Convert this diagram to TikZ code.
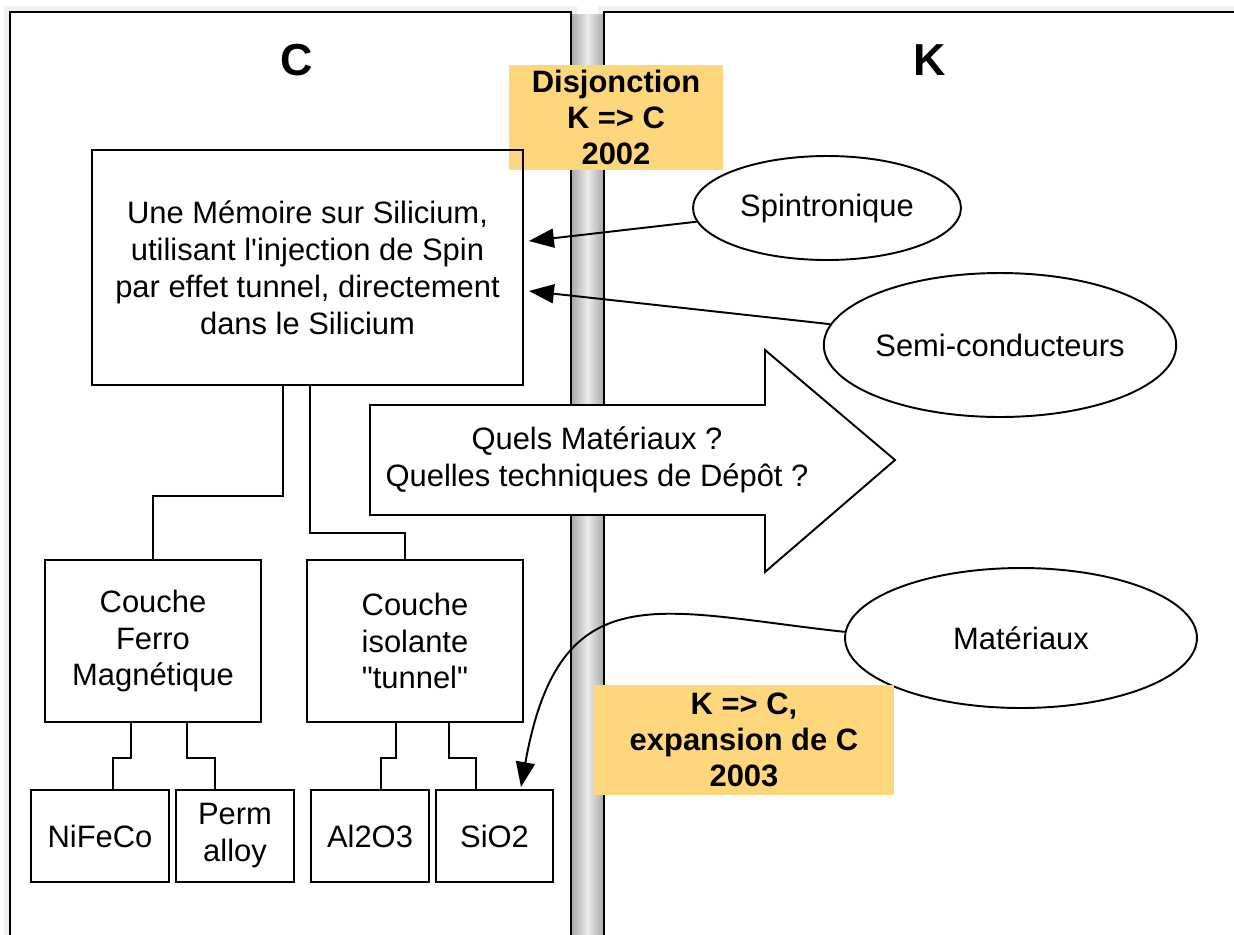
\documentclass[tikz,border=0pt]{standalone}
\usepackage{fontspec}
\setmainfont{Liberation Sans}[Ligatures={TeXOff}]
\usetikzlibrary{arrows.meta,shapes.geometric,calc}
\definecolor{notecol}{RGB}{254,214,124}
\begin{document}
\begin{tikzpicture}[x=0.02cm,y=-0.02cm,
  font=\fontsize{17.6}{21}\selectfont,
  panel/.style={draw=black,line width=1.6pt,fill=white},
  box/.style={draw=black,line width=1.1pt,align=center,inner sep=0pt},
  notebox/.style={fill=notecol,align=center,inner sep=0pt,font=\fontsize{17.6}{20.5}\selectfont\bfseries},
  oval/.style={ellipse,draw=black,line width=1.1pt,fill=white,inner sep=0pt,align=center},
  link/.style={draw=black,line width=1.1pt},
  arr/.style={link,-{Triangle[length=0.5cm,width=0.38cm]}},
  title/.style={font=\fontsize{25.5}{30}\selectfont\bfseries}
]
\useasboundingbox (0,0) rectangle (1234,934);
\fill[white] (0,0) rectangle (1234,934);
\begin{scope}
  \clip (0,0) rectangle (1234,934);
  \fill[gray!12] (4,6) rectangle (577,940);
  \fill[gray!12] (598,6) rectangle (1240,940);
  \shade[left color=gray!75, right color=gray!75, middle color=gray!15] (569,14) rectangle (606,940);
  \draw[panel] (10,12) rectangle (571,950);
  \draw[panel] (604,12) rectangle (1250,950);
\end{scope}

\node[title] (tc) at (297,60) {C};
\node[title] (tk) at (930,60) {K};

\node[notebox, minimum width=4.28cm, minimum height=2.1cm] (n1) at (616,117.5) {Disjonction\\K => C\\2002};

\node[box, minimum width=8.62cm, minimum height=4.7cm] (mem) at (307.5,267.5)
  {Une Mémoire sur Silicium,\\utilisant l'injection de Spin\\par effet tunnel, directement\\dans le Silicium};

\node[oval, minimum width=5.36cm, minimum height=2.08cm] (spin) at (827,208) {Spintronique};
\node[oval, minimum width=7.04cm, minimum height=2.88cm] (semi) at (1000,345) {Semi-conducteurs};
\node[oval, minimum width=7.04cm, minimum height=2.8cm] (mat) at (1021,638) {Matériaux};

\draw[arr] (spin.186) -- ([xshift=0.1cm,yshift=0.53cm]mem.east);
\draw[arr] (semi.173) -- ([xshift=0.1cm,yshift=-0.47cm]mem.east);

\draw[link, fill=white, line join=miter] (370,405) -- (765,405) -- (765,350) -- (895,460) -- (765,572) -- (765,515) -- (370,515) -- cycle;
\node[align=center] (q) at (597,460) {Quels Matériaux ?\\Quelles techniques de Dépôt ?};

\node[box, minimum width=4.32cm, minimum height=3.24cm] (ferro) at (153,641) {Couche\\Ferro\\Magnétique};
\node[box, minimum width=4.32cm, minimum height=3.24cm] (isol) at (415,641) {Couche\\isolante\\"tunnel"};

\node[box, minimum width=2.76cm, minimum height=1.84cm] (nife) at (100,836) {NiFeCo};
\node[box, minimum width=2.36cm, minimum height=1.84cm] (perm) at (235,836) {Perm\\alloy};
\node[box, minimum width=2.36cm, minimum height=1.84cm] (alo) at (370,836) {Al2O3};
\node[box, minimum width=2.34cm, minimum height=1.84cm] (sio) at (494.5,836) {SiO2};

\draw[link] ([xshift=-0.49cm]mem.south) -- ++(0,110) -| (ferro.north);
\draw[link] ([xshift=0.05cm]mem.south) -- ++(0,147) -| ([xshift=-0.2cm]isol.north);

\draw[link] ([xshift=-0.44cm]ferro.south) -- ++(0,35) -| ([xshift=0.26cm]nife.north);
\draw[link] ([xshift=0.68cm]ferro.south) -- ++(0,35) -| ([xshift=-0.4cm]perm.north);
\draw[link] ([xshift=-0.38cm]isol.south) -- ++(0,35) -| ([xshift=0.22cm]alo.north);
\draw[link] ([xshift=0.68cm]isol.south) -- ++(0,35) -| ([xshift=-0.37cm]sio.north);

\draw[arr] (mat.178) .. controls (660,612) and (560,570) .. ([xshift=0.53cm,yshift=0.04cm]sio.north);

\node[notebox, minimum width=6cm, minimum height=2.2cm] (n2) at (744,740) {K => C,\\expansion de C\\2003};
\end{tikzpicture}
\end{document}
